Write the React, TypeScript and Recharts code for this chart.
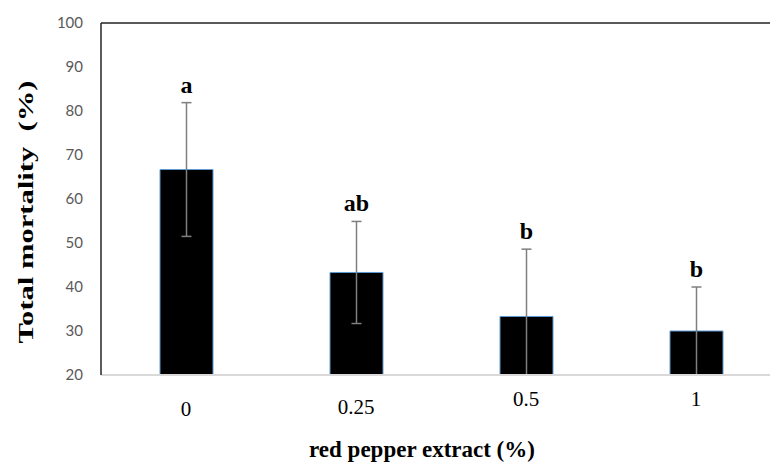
import { BarChart, Bar, XAxis, YAxis, ErrorBar, LabelList, ReferenceLine, Label } from 'recharts'

const concentrations = ['0', '0.25', '0.5', '1']
const mortality = [66.7, 43.3, 33.3, 30.0]
const mortalitySd = [15.2, 11.6, 15.3, 10.0]
const groupLetters = ['a', 'ab', 'b', 'b']
const yTicks = [20, 30, 40, 50, 60, 70, 80, 90, 100]

const Y_MIN = 20
const SERIF = '"Liberation Serif", "Times New Roman", serif'

const data = concentrations.map((c, i) => ({
  name: c,
  mortality: mortality[i],
  sd: mortalitySd[i],
  letter: groupLetters[i],
}))

// the original tick labels don't sit on one line
const tickDrop = [41, 39, 31, 31]

function XTick({ x, y, payload, index }: any) {
  return (
    <text x={x} y={y + (tickDrop[index] ?? 36)} textAnchor="middle" fontFamily={SERIF} fontSize={21} fill="#000">
      {payload.value}
    </text>
  )
}

function LetterLabel(props: any) {
  const { x, y, width, height, index } = props
  const d = data[index]
  if (!d) return null
  const ppu = height / (d.mortality - Y_MIN)
  const top = y - d.sd * ppu
  return (
    <text x={x + width / 2} y={top - 10} textAnchor="middle" fontFamily={SERIF} fontWeight={700} fontSize={24} fill="#000">
      {d.letter}
    </text>
  )
}

export default function App() {
  return (
    <div style={{ position: 'absolute', left: 0, top: 0, width: 770, height: 464, overflow: 'hidden', background: '#fff' }}>
      <BarChart width={790} height={464} data={data} margin={{ top: 23, right: 9, bottom: 0, left: 0 }}>
        <XAxis
          dataKey="name"
          height={89}
          axisLine={{ stroke: '#d9d9d9', strokeWidth: 2 }}
          tickLine={false}
          tickSize={0}
          tickMargin={0}
          tick={<XTick />}
        >
          <Label
            content={({ viewBox }: any) => (
              <text x={422} y={viewBox.y + 82} textAnchor="middle" fontFamily={SERIF} fontWeight={700} fontSize={23} fill="#000">
                red pepper extract (%)
              </text>
            )}
          />
        </XAxis>
        <YAxis
          width={101}
          domain={[20, 100]}
          ticks={yTicks}
          allowDataOverflow
          axisLine={{ stroke: '#262626', strokeWidth: 1.5 }}
          tickLine={false}
          tickSize={0}
          tickMargin={18}
          tick={{ fill: '#595959', fontSize: 15, fontFamily: 'Lato, sans-serif' }}
        >
          <Label
            content={({ viewBox }: any) => {
              const cx = viewBox.x + 25
              const cy = viewBox.y + viewBox.height / 2 + 13
              return (
                <text
                  x={cx}
                  y={cy}
                  transform={`rotate(-90 ${cx} ${cy})`}
                  textAnchor="middle"
                  dominantBaseline="central"
                  fontFamily={SERIF}
                  fontWeight={700}
                  fontSize={22}
                  fill="#000"
                  textLength={263}
                  lengthAdjust="spacingAndGlyphs"
                  style={{ whiteSpace: 'pre' }}
                >
                  Total mortality  (%)
                </text>
              )
            }}
          />
        </YAxis>
        <ReferenceLine y={100} stroke="#595959" strokeWidth={2} />
        <Bar dataKey="mortality" fill="#000" stroke="#5b9bd5" strokeWidth={1} barSize={53} isAnimationActive={false}>
          <ErrorBar
            dataKey={(d: any) => [Math.min(d.sd, d.mortality - Y_MIN), d.sd]}
            width={5}
            stroke="#7f7f7f"
            strokeWidth={1.5}
            direction="y"
          />
          <LabelList dataKey="letter" content={<LetterLabel />} />
        </Bar>
      </BarChart>
    </div>
  )
}
